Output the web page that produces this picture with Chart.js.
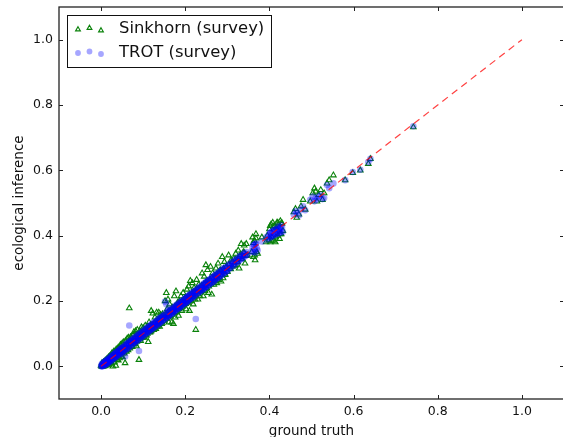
<!DOCTYPE html>
<html>
<head>
<meta charset="utf-8">
<style>
  html, body { margin: 0; padding: 0; background: #fff; overflow: hidden; width: 563px; height: 437px; }
  canvas { display: block; }
</style>
<script src="https://cdn.jsdelivr.net/npm/chart.js@4"></script>
</head>
<body>
<canvas id="scatterChart" width="570" height="440"></canvas>
<script>
const xTicks = [0.0, 0.2, 0.4, 0.6, 0.8, 1.0];
const yTicks = [0.0, 0.2, 0.4, 0.6, 0.8, 1.0];
const seriesNames = ['Sinkhorn (survey)', 'TROT (survey)'];
const xTitle = 'ground truth';
const yTitle = 'ecological inference';

// ground truth
const truth = [
  .000,.001,.002,.003,.004,.005,.006,.007,.008,.009,.010,.011,.012,.013,.014,.015,.016,.018,.019,.020,.022,.023,.025,.026,.028,.030,
  .032,.033,.035,.036,.038,.040,.041,.043,.044,.046,.048,.050,.051,.053,.055,.057,.058,.060,.062,.064,.065,.067,.068,.070,
  .072,.074,.076,.078,.080,.082,.084,.086,.088,.090,.092,.094,.096,.098,.100,.103,.105,.108,.110,.112,.114,.117,.119,.121,.123,.125,.128,.130,.132,.135,.137,.139,.141,.144,.146,.148,.150,
  .152,.154,.155,.157,.159,.161,.163,.165,.168,.170,.172,.174,.176,.178,.180,.182,.184,.186,.188,.190,.192,.195,.197,.200,.202,.204,.206,.208,.210,.212,.215,.217,.219,.221,.223,.225,.227,.230,.232,.235,.238,.240,.243,.245,.247,.249,.251,.253,.255,.258,.260,.263,.265,.268,.270,.273,.275,.278,.280,.283,.285,.288,.290,.293,.295,.298,
  .300,.303,.306,.309,.312,.315,.318,.320,.323,.326,.328,.330,.333,.335,.338,.340,.342,.345,.348,.358,.360,.362,.364,.366,.368,.370,.372,.382,.392,.395,.398,.400,.402,.404,.406,.408,.410,.412,.414,.416,.418,.420,.422,.424,.426,.428,.430,.432,
  .458,.462,.465,.470,.475,.480,.485,.497,.503,.507,.510,.513,.517,.522,.526,.530,.537,.542,.552,.580,.598,.616,.635,.640,.742
];
const sinkhorn = [
  .002,.000,.006,.001,.009,.000,.011,.002,.014,.001,.016,.003,.019,.004,.006,.024,.006,.028,.005,.031,.008,.034,.010,.041,.000,.045,
  .012,.046,.002,.052,.020,.056,.018,.060,.025,.066,.030,.070,.028,.074,.040,.010,.078,.045,.085,.050,.088,.178,.055,.090,
  .088,.060,.095,.105,.068,.108,.062,.112,.078,.020,.108,.078,.120,.088,.118,.088,.125,.095,.122,.075,.135,.105,.170,.118,.162,.112,.150,.115,.165,.125,.165,.122,.158,.130,.160,.140,.155,
  .200,.145,.225,.175,.205,.135,.190,.165,.135,.180,.130,.215,.150,.230,.165,.195,.155,.200,.180,.215,.170,.225,.190,.210,.175,.235,.195,.245,.170,.262,.200,.255,.190,.240,.205,.112,.265,.205,.250,.215,.245,.285,.215,.275,.230,.310,.240,.295,.225,.265,.305,.220,.285,.250,.260,.300,.255,.315,.265,.295,.260,.335,.270,.320,.280,.305,
  .290,.340,.300,.325,.305,.330,.310,.345,.320,.355,.300,.335,.375,.330,.350,.370,.315,.375,.340,.350,.395,.335,.385,.325,.405,.350,.345,.395,.380,.400,.385,.420,.380,.435,.395,.440,.385,.430,.380,.425,.440,.400,.435,.390,.445,.405,.438,.415,
  .472,.482,.455,.465,.490,.510,.480,.505,.530,.545,.535,.505,.525,.540,.510,.530,.560,.570,.585,.570,.592,.600,.620,.635,.732
];
const trot = [
  .000,.003,.000,.006,.002,.008,.004,.010,.005,.013,.006,.015,.009,.016,.011,.019,.012,.021,.015,.024,.017,.027,.021,.030,.023,.035,
  .026,.039,.030,.042,.033,.046,.036,.049,.038,.052,.043,.057,.045,.058,.049,.030,.063,.054,.069,.058,.071,.125,.063,.076,
  .078,.069,.081,.073,.085,.077,.089,.081,.094,.047,.097,.089,.102,.093,.105,.098,.111,.103,.116,.107,.120,.112,.125,.116,.129,.120,.133,.125,.137,.130,.142,.134,.147,.139,.152,.143,.156,
  .198,.148,.190,.152,.172,.154,.169,.160,.172,.163,.178,.169,.180,.173,.186,.177,.189,.180,.194,.185,.197,.190,.203,.193,.209,.198,.213,.201,.218,.206,.222,.211,.225,.216,.229,.145,.232,.225,.238,.229,.243,.234,.249,.238,.254,.243,.258,.246,.263,.252,.267,.256,.272,.260,.277,.267,.281,.271,.286,.276,.292,.281,.297,.286,.302,.291,
  .295,.309,.301,.315,.307,.320,.313,.326,.318,.331,.323,.336,.328,.341,.333,.346,.337,.350,.342,.352,.365,.350,.372,.348,.375,.362,.355,.382,.395,.388,.402,.392,.408,.396,.412,.398,.415,.402,.418,.404,.420,.406,.422,.408,.424,.410,.425,.412,
  .465,.475,.470,.462,.480,.490,.478,.510,.520,.505,.515,.510,.520,.525,.512,.515,.555,.545,.560,.570,.595,.602,.625,.635,.735
];

// the crowded part of the band, estimated by eye
const denseTruth = [
  .002,.004,.006,.008,.010,.012,.014,.016,.018,.020,
  .022,.024,.026,.028,.030,.033,.035,.037,.039,.041,
  .044,.046,.048,.050,.052,.054,.057,.059,.061,.063,
  .066,.068,.070,.073,.075,.077,.079,.081,.083,.085,
  .087,.089,.091,.093,.095,.097,.099,.101,.104,.106,
  .108,.110,.113,.115,.117,.119,.121,.124,.126,.128,
  .130,.133,.135,.137,.139,.141,.143,.145,.147,.150,
  .153,.155,.158,.160,.162,.164,.167,.169,.171,.173,
  .175,.177,.179,.181,.183,.185,.187,.189,.191,.193,
  .195,.197,.199,.201,.203,.205,.207,.209,.211,.213,
  .215,.218,.220,.222,.224,.226,.229,.231,.233,.236,
  .239,.241,.244,.246,.248,.250,.253,.256,.259,.261,
  .264,.267,.270,.272,.274,.277,.280,.282,.285,.288,
  .291,.294,.297,.300,.304,.308,.312,.316,.320,.325,
  .330,.335,.340,.345,.362,.365,.368,.402,.405,.410,
  .415,.420,.425,.428
];
const denseTrot = [
  .008,.000,.012,.003,.016,.005,.021,.009,.024,.013,
  .030,.016,.033,.021,.037,.026,.043,.029,.046,.034,
  .052,.038,.055,.042,.060,.046,.066,.050,.070,.054,
  .075,.059,.079,.064,.084,.069,.088,.073,.092,.077,
  .097,.081,.100,.085,.104,.089,.109,.093,.113,.098,
  .118,.102,.122,.107,.126,.111,.130,.116,.135,.120,
  .139,.125,.144,.129,.148,.133,.152,.137,.156,.142,
  .162,.147,.167,.152,.171,.157,.175,.161,.180,.165,
  .184,.170,.188,.174,.192,.178,.196,.182,.200,.186,
  .203,.190,.208,.194,.212,.198,.216,.203,.220,.207,
  .224,.211,.229,.215,.233,.220,.238,.224,.242,.229,
  .248,.234,.253,.239,.257,.243,.262,.248,.267,.254,
  .273,.259,.279,.265,.283,.270,.289,.275,.294,.281,
  .300,.287,.305,.292,.312,.301,.320,.310,.328,.320,
  .338,.330,.346,.340,.372,.358,.376,.410,.398,.418,
  .408,.428,.416,.432
];
const denseSinkhorn = [
  .010,.000,.013,.004,.018,.007,.022,.010,.026,.014,
  .030,.016,.034,.020,.038,.024,.042,.027,.047,.031,
  .054,.036,.056,.040,.060,.044,.064,.048,.068,.052,
  .074,.058,.078,.062,.082,.067,.087,.071,.090,.076,
  .096,.079,.100,.083,.102,.087,.106,.090,.112,.095,
  .116,.100,.120,.104,.124,.108,.128,.114,.132,.118,
  .138,.122,.142,.126,.145,.130,.150,.134,.154,.140,
  .160,.146,.165,.150,.170,.154,.174,.158,.178,.163,
  .183,.167,.186,.172,.190,.175,.194,.178,.198,.183,
  .202,.187,.206,.191,.210,.196,.215,.200,.218,.204,
  .222,.208,.228,.212,.232,.217,.236,.221,.240,.227,
  .247,.231,.252,.235,.256,.240,.261,.245,.266,.251,
  .272,.256,.278,.262,.282,.266,.288,.272,.293,.279,
  .299,.284,.304,.290,.312,.298,.320,.308,.328,.318,
  .340,.328,.348,.338,.378,.340,.392,.430,.385,.428,
  .395,.440,.405,.438
];
const identityLine = [0, 1];

const allTruth = truth.concat(denseTruth);
const allSinkhorn = sinkhorn.concat(denseSinkhorn);
const allTrot = trot.concat(denseTrot);

const sinkhornStyle = { pointStyle: 'triangle', radius: 3.2, borderWidth: 1.1, borderColor: '#0a820a', backgroundColor: 'rgba(0,0,0,0)' };
const trotStyle = { pointStyle: 'circle', radius: 3.3, borderWidth: 0, borderColor: 'rgba(0,0,255,0)', backgroundColor: 'rgba(0,0,255,0.35)' };
const textFont = '"DejaVu Sans", sans-serif';

// frame, inward ticks and the matplotlib style legend with three markers
const axesLook = {
  id: 'axesLook',
  afterDraw(chart) {
    const { ctx, chartArea: a, scales } = chart;
    ctx.save();
    ctx.strokeStyle = '#222';
    ctx.lineWidth = 1;
    scales.x.ticks.forEach(t => {
      const px = Math.round(scales.x.getPixelForValue(t.value)) + 0.5;
      ctx.beginPath();
      ctx.moveTo(px, a.bottom); ctx.lineTo(px, a.bottom - 4);
      ctx.moveTo(px, a.top); ctx.lineTo(px, a.top + 4);
      ctx.stroke();
    });
    scales.y.ticks.forEach(t => {
      const py = Math.round(scales.y.getPixelForValue(t.value)) + 0.5;
      ctx.beginPath();
      ctx.moveTo(a.left, py); ctx.lineTo(a.left + 4, py);
      ctx.moveTo(a.right, py); ctx.lineTo(a.right - 4, py);
      ctx.stroke();
    });
    ctx.lineWidth = 1.3;
    ctx.strokeRect(a.left, a.top, a.right - a.left, a.bottom - a.top);

    ctx.fillStyle = '#fff';
    ctx.strokeStyle = '#111';
    ctx.lineWidth = 1;
    ctx.fillRect(67.5, 15.5, 204, 52);
    ctx.strokeRect(67.5, 15.5, 204, 52);
    const rows = [
      { style: sinkhornStyle, ys: [29.5, 28, 30.5], label: seriesNames[0], ty: 29 },
      { style: trotStyle, ys: [53, 51.5, 54], label: seriesNames[1], ty: 52.5 }
    ];
    ctx.font = '16.4px ' + textFont;
    ctx.textBaseline = 'middle';
    rows.forEach(r => {
      [78, 89.5, 101].forEach((x, i) => {
        ctx.strokeStyle = r.style.borderColor;
        ctx.fillStyle = r.style.backgroundColor;
        ctx.lineWidth = r.style.borderWidth;
        Chart.helpers.drawPoint(ctx, { pointStyle: r.style.pointStyle, radius: r.style.radius - 0.4, borderWidth: r.style.borderWidth }, x, r.ys[i]);
      });
      ctx.fillStyle = '#111';
      ctx.fillText(r.label, 119, r.ty);
    });
    ctx.restore();
  }
};

new Chart(document.getElementById('scatterChart'), {
  type: 'scatter',
  data: {
    datasets: [
      {
        label: seriesNames[0],
        data: allTruth.map((x, i) => ({ x: x, y: allSinkhorn[i] })),
        pointStyle: sinkhornStyle.pointStyle,
        pointRadius: sinkhornStyle.radius,
        pointBorderWidth: sinkhornStyle.borderWidth,
        pointBorderColor: sinkhornStyle.borderColor,
        pointBackgroundColor: sinkhornStyle.backgroundColor,
        order: 3
      },
      {
        label: seriesNames[1],
        data: allTruth.map((x, i) => ({ x: x, y: allTrot[i] })),
        pointStyle: trotStyle.pointStyle,
        pointRadius: trotStyle.radius,
        pointBorderWidth: trotStyle.borderWidth,
        pointBorderColor: trotStyle.borderColor,
        pointBackgroundColor: trotStyle.backgroundColor,
        order: 2
      },
      {
        label: 'identity',
        data: identityLine.map(v => ({ x: v, y: v })),
        showLine: true,
        pointRadius: 0,
        borderColor: 'rgba(255,0,0,0.75)',
        borderWidth: 1.2,
        borderDash: [7, 5],
        order: 1
      }
    ]
  },
  options: {
    responsive: false,
    animation: false,
    layout: { autoPadding: false, padding: { top: 7, right: 6, left: 0, bottom: 0 } },
    plugins: { legend: { display: false }, tooltip: { enabled: false } },
    scales: {
      x: {
        type: 'linear',
        min: -0.1,
        max: 1.1,
        grid: { display: false, drawTicks: false },
        border: { display: false },
        afterBuildTicks: s => { s.ticks = xTicks.map(v => ({ value: v })); },
        afterFit: s => { s.height = 41; s.paddingLeft = 0; s.paddingRight = 0; },
        ticks: {
          padding: 5,
          maxRotation: 0,
          autoSkip: false,
          color: '#111',
          font: { family: textFont, size: 12.5 },
          callback: v => Number(v).toFixed(1)
        },
        title: { display: true, text: xTitle, color: '#111', padding: { top: 1, bottom: 0 }, font: { family: textFont, size: 13.5 } }
      },
      y: {
        type: 'linear',
        min: -0.1,
        max: 1.1,
        grid: { display: false, drawTicks: false },
        border: { display: false },
        afterBuildTicks: s => { s.ticks = yTicks.map(v => ({ value: v })); },
        afterFit: s => { s.width = 59; s.paddingTop = 0; s.paddingBottom = 0; },
        ticks: {
          padding: 6,
          autoSkip: false,
          color: '#111',
          font: { family: textFont, size: 12.5 },
          callback: v => Number(v).toFixed(1)
        },
        title: { display: true, text: yTitle, color: '#111', padding: { top: 11, bottom: 0 }, font: { family: textFont, size: 13.5 } }
      }
    }
  },
  plugins: [axesLook]
});
</script>
</body>
</html>
